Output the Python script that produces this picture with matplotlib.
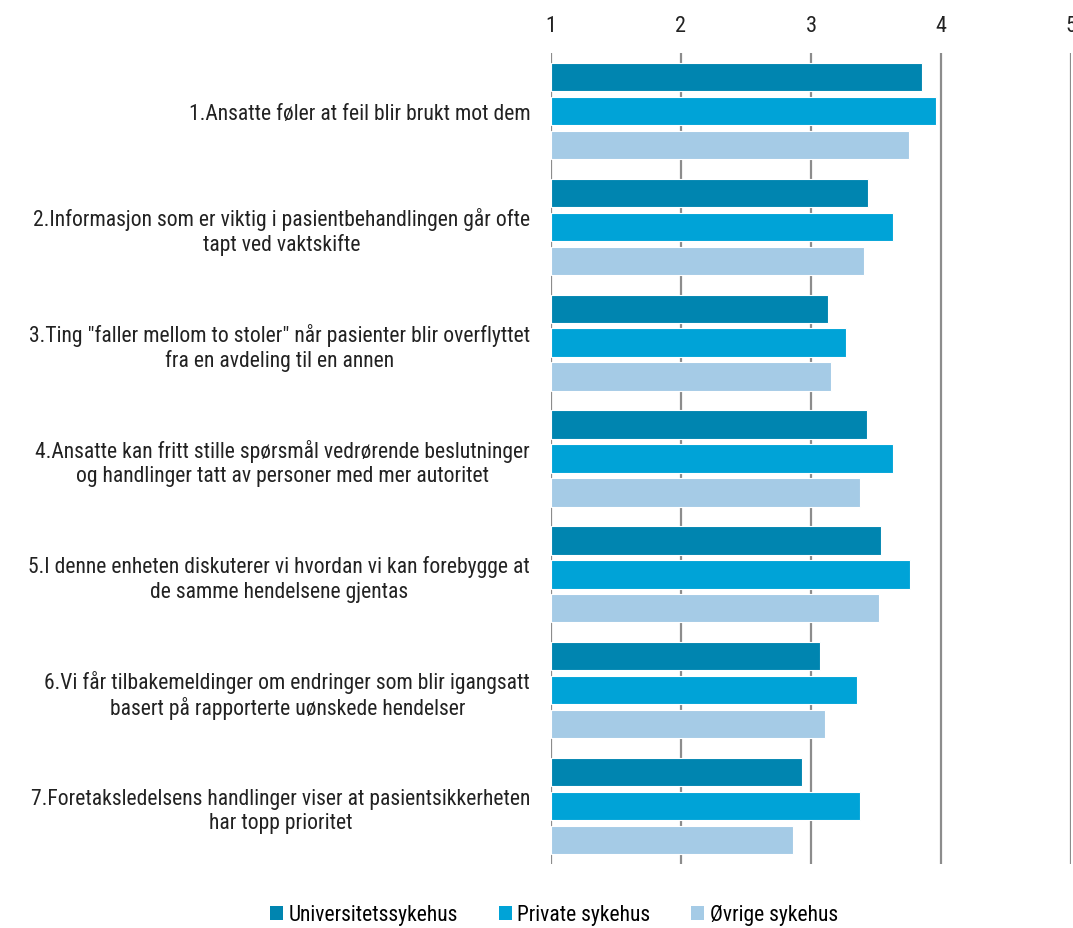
import matplotlib
matplotlib.use("Agg")
import matplotlib.pyplot as plt
import numpy as np
from matplotlib.patches import Patch

plt.rcParams['font.family'] = ['Roboto Condensed', 'DejaVu Sans']

categories = [
    "1.Ansatte føler at feil blir brukt mot dem",
    "2.Informasjon som er viktig i pasientbehandlingen går ofte\ntapt ved vaktskifte",
    "3.Ting \"faller mellom to stoler\" når pasienter blir overflyttet\nfra en avdeling til en annen",
    "4.Ansatte kan fritt stille spørsmål vedrørende beslutninger\nog handlinger tatt av personer med mer autoritet",
    "5.I denne enheten diskuterer vi hvordan vi kan forebygge at\nde samme hendelsene gjentas",
    "6.Vi får tilbakemeldinger om endringer som blir igangsatt\nbasert på rapporterte uønskede hendelser",
    "7.Foretaksledelsens handlinger viser at pasientsikkerheten\nhar topp prioritet",
]
series_names = ["Universitetssykehus", "Private sykehus", "Øvrige sykehus"]
uni = [3.85, 3.44, 3.13, 3.43, 3.54, 3.07, 2.93]
priv = [3.96, 3.63, 3.27, 3.63, 3.76, 3.35, 3.38]
ovr = [3.75, 3.41, 3.15, 3.38, 3.52, 3.11, 2.86]
xticks = [1, 2, 3, 4, 5]

colors = ["#0085B0", "#00A3D7", "#A5CBE6"]

fig = plt.figure(figsize=(10.73, 9.29), dpi=100)
ax = fig.add_axes([551/1073, 1-865/929, (1071-551)/1073, (865-54)/929])

y = np.arange(len(categories))
h = 0.245
off = 0.293
for vals, dy, c in zip([uni, priv, ovr], [-off, 0, off], colors):
    v = np.array(vals)
    ax.barh(y + dy, v - 1, left=1, height=h, color=c, edgecolor='white', linewidth=0.8, zorder=3)

ax.set_xlim(1, 5)
ax.set_ylim(6.5, -0.5)
ax.set_xticks(xticks)
ax.xaxis.tick_top()
ax.tick_params(axis='x', length=0, pad=12, labelsize=16, labelcolor='#222222')
ax.set_yticks(y)
ax.set_yticklabels(categories, fontsize=15.6, ha='right', multialignment='center', color='#222222',
                   linespacing=1.2)
ax.tick_params(axis='y', length=0, pad=15)
for xv in xticks:
    ax.axvline(xv, color='#8c8c8c', linewidth=1.6, zorder=1)
for s in ax.spines.values():
    s.set_visible(False)

handles = [Patch(facecolor=c, edgecolor='none') for c in colors]
fig.legend(handles, series_names, loc='center', bbox_to_anchor=(554/1073, 1-916/929), ncol=3,
           frameon=False, fontsize=15.5, handlelength=0.6, handleheight=0.6, handletextpad=0.25,
           columnspacing=1.9)

fig.savefig("out.png", dpi=100)
